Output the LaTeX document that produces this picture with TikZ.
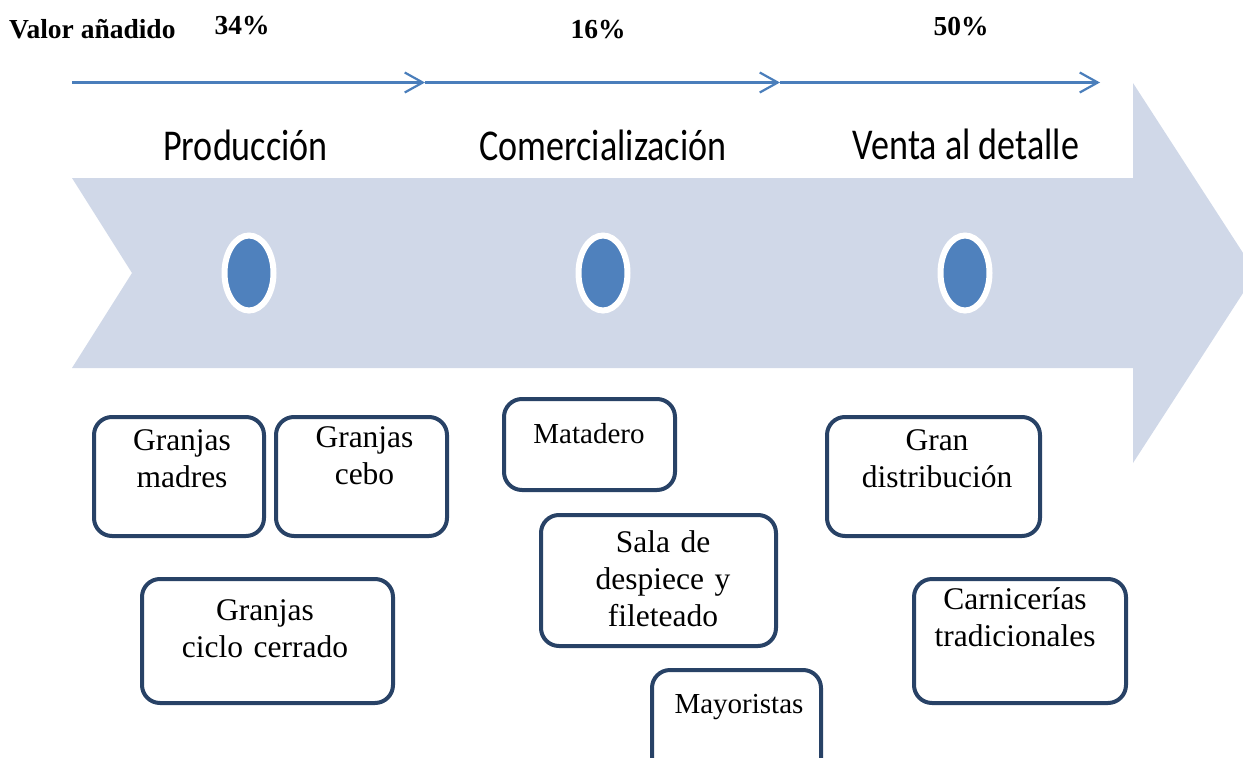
\documentclass[tikz,border=0pt]{standalone}
\usepackage{fontspec}
\setmainfont{Liberation Serif}
\newfontfamily\headfont{Carlito}
\usetikzlibrary{shapes.geometric,arrows.meta,calc}
\definecolor{thinblue}{RGB}{74,126,187}
\definecolor{bigarrow}{RGB}{208,216,232}
\definecolor{dotblue}{RGB}{79,129,189}
\definecolor{boxline}{RGB}{40,66,102}
\tikzset{
  boxnode/.style={draw=boxline, line width=4pt, rounded corners=18pt, fill=white, inner sep=0pt},
  boxtext/.style={anchor=base, align=center, text width=240pt, inner sep=0pt, font=\fontsize{31.5}{37}\selectfont},
  smalltext/.style={boxtext, font=\fontsize{29}{35}\selectfont},
  toplabel/.style={anchor=base, inner sep=0pt, font=\fontsize{27.5}{30}\selectfont\bfseries},
  heading/.style={anchor=base, inner sep=0pt, font=\headfont\fontsize{44}{48}\selectfont},
  dot/.style={ellipse, draw=white, line width=6pt, fill=dotblue, minimum width=49pt, minimum height=75pt, inner sep=0pt},
  valarrow/.style={thinblue, line width=2.2pt, -{Straight Barb[length=18pt,width=20pt]}}
}
\begin{document}
\begin{tikzpicture}[x=1pt,y=-1pt]
\useasboundingbox (0,0) rectangle (1243,758);
\clip (0,0) rectangle (1243,758);
% big chevron arrow
\fill[bigarrow] (72,178) -- (1133,178) -- (1133,83) -- (1256,273) -- (1133,463) -- (1133,368) -- (72,368) -- (132,273) -- cycle;
% top labels
\node[toplabel, anchor=base west] (va) at (9,38) {Valor añadido};
\node[toplabel] (p1) at (242,34.5) {34\%};
\node[toplabel] (p2) at (598,38) {16\%};
\node[toplabel] (p3) at (961,35) {50\%};
% thin value arrows
\coordinate (a0) at (72,82.5);
\coordinate (a1) at (425,82.5);
\coordinate (a2) at (780,82.5);
\coordinate (a3) at (1100,82.5);
\draw[valarrow] (a0) -- (a1);
\draw[valarrow] (a1) -- (a2);
\draw[valarrow] (a2) -- (a3);
% headings
\node[heading] (h1) at (245.5,160) {\scalebox{0.82}[1]{Producción}};
\node[heading] (h2) at (603,160) {\scalebox{0.82}[1]{Comercialización}};
\node[heading] (h3) at (966,159) {\scalebox{0.82}[1]{Venta al detalle}};
% dots
\node[dot] (d1) at (249,273) {};
\node[dot] (d2) at (603,273) {};
\node[dot] (d3) at (965,273) {};
% boxes
\node[boxnode, minimum width=170pt, minimum height=119pt] (b1) at (179,476.5) {};
\node[boxnode, minimum width=171pt, minimum height=119pt] (b2) at (361.5,476.5) {};
\node[boxnode, minimum width=251pt, minimum height=124pt] (b3) at (267.5,641) {};
\node[boxnode, minimum width=171pt, minimum height=91pt] (b4) at (589.5,444.5) {};
\node[boxnode, minimum width=235pt, minimum height=131pt] (b5) at (658.5,580.5) {};
\node[boxnode, minimum width=169pt, minimum height=116pt] (b6) at (736.5,728) {};
\node[boxnode, minimum width=213pt, minimum height=119pt] (b7) at (933.5,476.5) {};
\node[boxnode, minimum width=212pt, minimum height=124pt] (b8) at (1020,641) {};
% box texts
\node[boxtext] (t1) at (182,450) {Granjas\\madres};
\node[boxtext] (t2) at (364.5,447) {Granjas\\cebo};
\node[boxtext] (t3) at (265,620) {Granjas\\ciclo cerrado};
\node[smalltext] (t4) at (589,443) {Matadero};
\node[boxtext] (t5) at (663,552) {Sala de\\despiece y\\fileteado};
\node[smalltext] (t6) at (739,713) {Mayoristas};
\node[boxtext] (t7) at (937,450) {Gran\\distribución};
\node[boxtext] (t8) at (1015,609) {Carnicerías\\tradicionales};
\end{tikzpicture}
\end{document}
